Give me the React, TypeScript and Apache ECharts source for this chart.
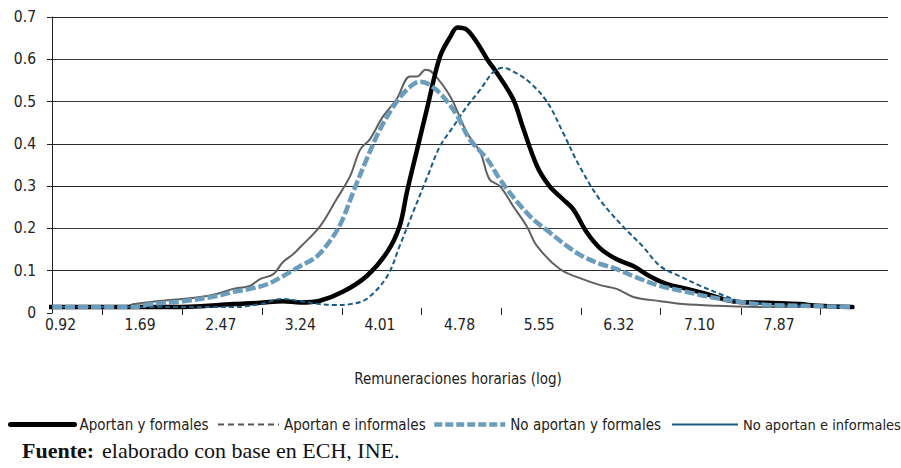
import React, { useEffect, useRef } from 'react';
import * as echarts from 'echarts';

const tickLabels = ['0.92', '1.69', '2.47', '3.24', '4.01', '4.78', '5.55', '6.32', '7.10', '7.87'];
const seriesNames = ['Aportan y formales', 'Aportan e informales', 'No aportan y formales', 'No aportan e informales'];

const xAportanFormales = [0.77, 1.30, 1.79, 2.17, 2.59, 2.85, 3.07, 3.24, 3.43, 3.65, 3.88, 4.08, 4.20, 4.27, 4.37, 4.47, 4.59, 4.69, 4.76, 4.85, 4.95, 5.05, 5.14, 5.30, 5.39, 5.53, 5.65, 5.78, 5.88, 6.01, 6.14, 6.30, 6.46, 6.62, 6.79, 6.98, 7.17, 7.42, 7.75, 8.07, 8.24, 8.58];
const yAportanFormales = [0.014, 0.014, 0.014, 0.015, 0.021, 0.024, 0.028, 0.025, 0.029, 0.050, 0.087, 0.144, 0.205, 0.285, 0.387, 0.488, 0.606, 0.653, 0.675, 0.670, 0.639, 0.599, 0.568, 0.505, 0.441, 0.347, 0.300, 0.269, 0.245, 0.191, 0.153, 0.127, 0.111, 0.087, 0.068, 0.057, 0.045, 0.028, 0.024, 0.021, 0.017, 0.014];

const xAportanInformales = [0.77, 1.79, 2.59, 2.85, 3.07, 3.24, 3.43, 3.56, 3.72, 3.88, 4.08, 4.20, 4.33, 4.47, 4.59, 4.72, 4.85, 4.98, 5.10, 5.20, 5.30, 5.46, 5.63, 5.78, 5.94, 6.14, 6.36, 6.55, 6.72, 6.91, 7.11, 7.30, 7.49, 7.75, 8.07, 8.58];
const yAportanInformales = [0.014, 0.014, 0.014, 0.021, 0.033, 0.028, 0.021, 0.019, 0.021, 0.033, 0.087, 0.158, 0.238, 0.323, 0.394, 0.441, 0.488, 0.528, 0.568, 0.580, 0.571, 0.545, 0.498, 0.427, 0.347, 0.267, 0.205, 0.158, 0.111, 0.087, 0.064, 0.045, 0.028, 0.021, 0.017, 0.014];

const xNoAportanFormales = [0.84, 1.62, 1.79, 2.11, 2.43, 2.59, 2.75, 2.92, 3.07, 3.24, 3.40, 3.56, 3.65, 3.75, 3.88, 4.01, 4.14, 4.27, 4.40, 4.49, 4.62, 4.76, 4.88, 5.05, 5.17, 5.34, 5.49, 5.65, 5.82, 5.97, 6.14, 6.30, 6.46, 6.72, 6.94, 7.20, 7.49, 7.75, 8.07, 8.56];
const yNoAportanFormales = [0.014, 0.014, 0.021, 0.028, 0.040, 0.050, 0.057, 0.068, 0.087, 0.111, 0.134, 0.182, 0.222, 0.285, 0.363, 0.434, 0.488, 0.528, 0.547, 0.540, 0.512, 0.465, 0.410, 0.363, 0.316, 0.262, 0.222, 0.191, 0.158, 0.134, 0.116, 0.104, 0.087, 0.064, 0.052, 0.038, 0.026, 0.019, 0.017, 0.014];

const xNoAportanInformales = [0.77, 1.56, 1.62, 2.27, 2.43, 2.59, 2.75, 2.85, 2.98, 3.07, 3.17, 3.24, 3.43, 3.59, 3.72, 3.82, 3.91, 4.04, 4.17, 4.30, 4.37, 4.45, 4.52, 4.69, 4.85, 4.98, 5.07, 5.17, 5.30, 5.43, 5.53, 5.75, 5.97, 6.14, 6.30, 6.46, 6.72, 6.94, 7.27, 7.75, 8.58];
const yNoAportanInformales = [0.014, 0.014, 0.021, 0.038, 0.045, 0.057, 0.064, 0.080, 0.092, 0.120, 0.139, 0.156, 0.205, 0.269, 0.323, 0.387, 0.410, 0.465, 0.505, 0.559, 0.559, 0.575, 0.568, 0.512, 0.427, 0.380, 0.316, 0.300, 0.252, 0.205, 0.158, 0.104, 0.080, 0.066, 0.057, 0.038, 0.028, 0.021, 0.017, 0.014, 0.014];

const NARROW = "'DejaVu Sans Condensed', 'DejaVu Sans', sans-serif";
const SERIF = "'Liberation Serif', 'DejaVu Serif', serif";

const zip = (xs: number[], ys: number[]) => xs.map((x, i) => [x, ys[i]]);

export default function App() {
  const ref = useRef<HTMLDivElement>(null);
  useEffect(() => {
    if (!ref.current) return;
    const chart = echarts.init(ref.current, undefined, { renderer: 'svg' });

    const chartStyles = [
      { color: '#000000', width: 4.5, type: 'solid' as any },
      { color: '#1b5a82', width: 2, type: [5, 3] as any },
      { color: '#6a9cbc', width: 4.5, type: [10, 3] as any },
      { color: '#606060', width: 2, type: 'solid' as any },
    ];
    const legendStyles = [
      { color: '#000000', width: 5, type: 'solid' as any },
      { color: '#555555', width: 2, type: [6, 4] as any },
      { color: '#6a9cbc', width: 4.5, type: [8, 3] as any },
      { color: '#1b5a82', width: 2, type: 'solid' as any },
    ];
    const legendLeft = [3, 212, 427, 666];
    const legendWidth = [64, 61, 71, 66];
    const data = [
      zip(xAportanFormales, yAportanFormales),
      zip(xAportanInformales, yAportanInformales),
      zip(xNoAportanFormales, yNoAportanFormales),
      zip(xNoAportanInformales, yNoAportanInformales),
    ];

    const labelVals = tickLabels.map((s) => parseFloat(s));
    const tickVals = labelVals.map((v) => v + 0.403);

    chart.setOption({
      animation: false,
      backgroundColor: '#ffffff',
      grid: { left: 52, right: 13, top: 17, bottom: 155, containLabel: false },
      xAxis: {
        type: 'value',
        min: 0.838,
        max: 8.924,
        offset: -5,
        axisLine: { show: false },
        axisTick: { show: true, customValues: tickVals, length: 7, lineStyle: { color: '#222', width: 1 } },
        axisLabel: {
          customValues: labelVals,
          formatter: (v: number) => v.toFixed(2),
          color: '#222',
          fontSize: 15.5,
          fontFamily: NARROW,
          margin: 9,
        },
        splitLine: { show: false },
      },
      yAxis: {
        type: 'value',
        min: 0,
        max: 0.7,
        interval: 0.1,
        axisLine: { show: true, lineStyle: { color: '#222', width: 1 } },
        axisTick: { show: true, length: 5, lineStyle: { color: '#222' } },
        axisLabel: {
          formatter: (v: number) => (v === 0 ? '0' : v.toFixed(1)),
          color: '#222',
          fontSize: 15.5,
          fontFamily: NARROW,
          margin: 16,
        },
        splitLine: {
          show: true,
          lineStyle: {
            color: ['rgba(0,0,0,0)', '#2a2a2a', '#3a3a3a', '#2a2a2a', '#2a2a2a', '#3a3a3a', '#3a3a3a', '#2a2a2a'],
            width: 1.2,
          },
        },
      },
      legend: seriesNames.map((name, i) => ({
        data: [{ name, lineStyle: legendStyles[i], itemStyle: { color: legendStyles[i].color, opacity: 0 } }],
        left: legendLeft[i],
        top: 412,
        itemWidth: legendWidth[i],
        itemHeight: 14,
        selectedMode: false,
        textStyle: { fontFamily: NARROW, fontSize: i === 3 ? 14.5 : 15, color: '#222' },
      })),
      graphic: [
        {
          type: 'text',
          x: 458,
          y: 379,
          style: {
            text: 'Remuneraciones horarias (log)',
            font: `15px ${NARROW}`,
            fill: '#222',
            textAlign: 'center',
            textVerticalAlign: 'middle',
          },
        },
        {
          type: 'text',
          x: 22,
          y: 450,
          style: {
            text: 'Fuente:',
            font: `bold 22px ${SERIF}`,
            fill: '#111',
            textAlign: 'left',
            textVerticalAlign: 'middle',
          },
        },
        {
          type: 'text',
          x: 102,
          y: 450,
          style: {
            text: 'elaborado con base en ECH, INE.',
            font: `22px ${SERIF}`,
            fill: '#111',
            textAlign: 'left',
            textVerticalAlign: 'middle',
          },
        },
      ],
      series: seriesNames.map((name, i) => ({
        name,
        type: 'line',
        data: data[i],
        symbol: 'none',
        smooth: 0.35,
        clip: false,
        lineStyle: { ...chartStyles[i], cap: i === 0 ? 'round' : 'butt' },
        itemStyle: { color: chartStyles[i].color },
        z: [3, 4, 5, 2][i],
      })),
    });
    return () => chart.dispose();
  }, []);

  return (
    <div
      ref={ref}
      style={{ position: 'absolute', left: 0, top: 0, width: 901, height: 468, background: '#fff' }}
    />
  );
}
